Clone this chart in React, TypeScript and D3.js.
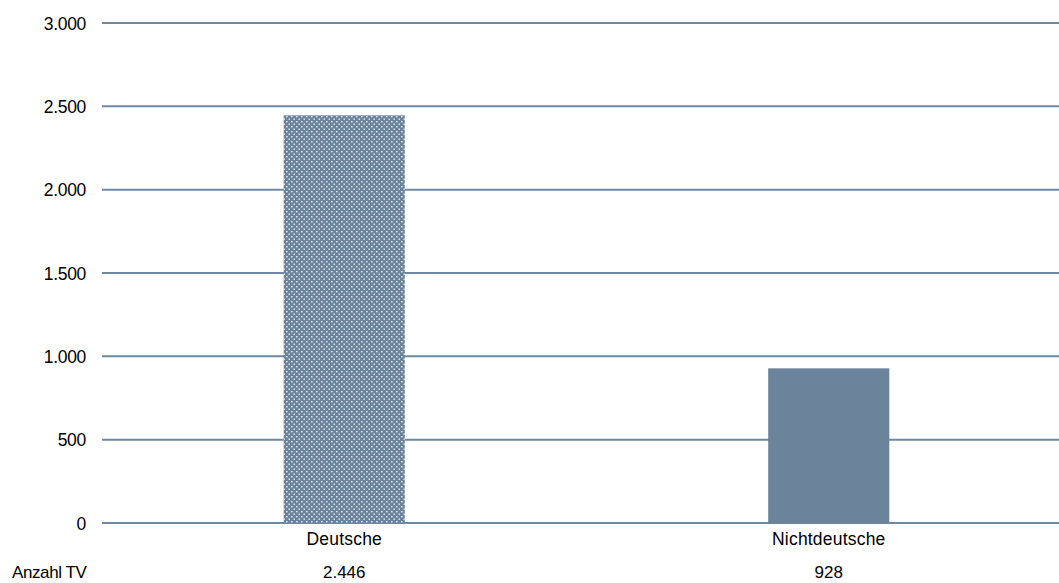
import React from "react";
import * as d3 from "d3";

const categories = ["Deutsche", "Nichtdeutsche"];
const values = [2446, 928];
const valueLabels = ["2.446", "928"];
const yTicks = [0, 500, 1000, 1500, 2000, 2500, 3000];
const tickLabels = ["0", "500", "1.000", "1.500", "2.000", "2.500", "3.000"];
const rowLabel = "Anzahl TV";

const W = 1059;
const H = 583;
const left = 102;
const top = 23;
const bottom = 523;

export default function App() {
  const x = d3.scaleBand<string>().domain(categories).range([left, 1071]).paddingInner(0.75).paddingOuter(0.375);
  const y = d3.scaleLinear().domain([0, 3000]).range([bottom, top]);
  const font = "'Liberation Sans', Arial, sans-serif";
  const barColor = "#6b849c";
  const gridColor = "#6f89a3";
  return (
    <svg width={W} height={H} style={{ position: "absolute", left: 0, top: 0, background: "#fff" }}>
      <defs>
        <pattern id="dots" width={5} height={5} patternUnits="userSpaceOnUse">
          <rect width={5} height={5} fill={barColor} />
          <rect x={1} y={1} width={1.6} height={1.4} fill="#dfe6ec" />
          <rect x={3.5} y={3.5} width={1.6} height={1.4} fill="#dfe6ec" />
        </pattern>
      </defs>
      {yTicks.map((t, i) => (
        <g key={t}>
          <line x1={left} x2={W} y1={y(t)} y2={y(t)} stroke={gridColor} strokeWidth={2} />
          <text x={86} y={y(t) + 6.5} textAnchor="end" fontFamily={font} fontSize={17.5} letterSpacing={-0.3}>
            {tickLabels[i]}
          </text>
        </g>
      ))}
      {categories.map((c, i) => (
        <rect
          key={c}
          x={x(c)}
          y={y(values[i])}
          width={x.bandwidth()}
          height={bottom - y(values[i])}
          fill={i === 0 ? "url(#dots)" : barColor}
        />
      ))}
      {categories.map((c, i) => (
        <g key={c + "l"}>
          <text x={(x(c) as number) + x.bandwidth() / 2} y={545} textAnchor="middle" fontFamily={font} fontSize={17.5} letterSpacing={0.2}>
            {c}
          </text>
          <text x={(x(c) as number) + x.bandwidth() / 2} y={578} textAnchor="middle" fontFamily={font} fontSize={17}>
            {valueLabels[i]}
          </text>
        </g>
      ))}
      <text x={12} y={578} fontFamily={font} fontSize={17} letterSpacing={-0.4}>
        {rowLabel}
      </text>
    </svg>
  );
}
